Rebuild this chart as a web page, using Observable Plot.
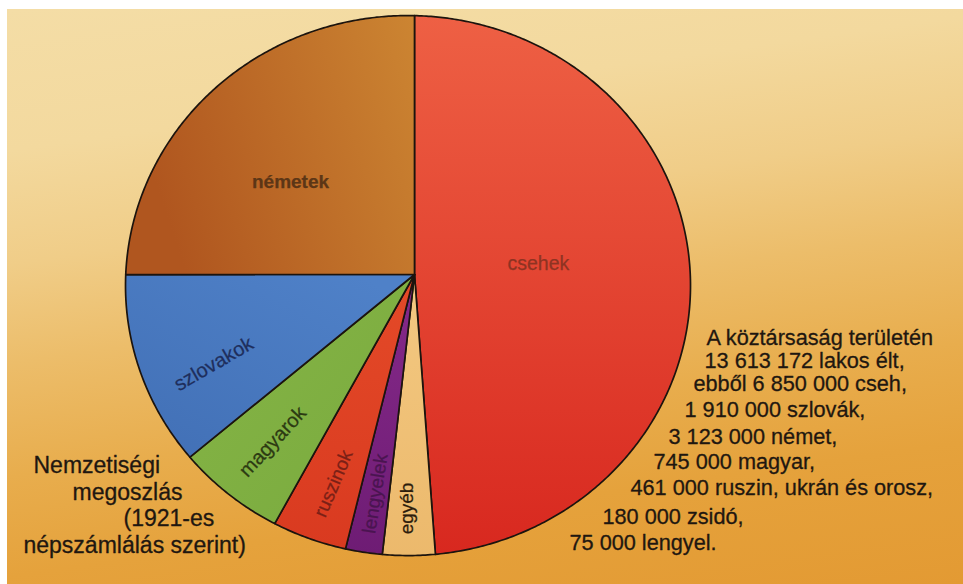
<!DOCTYPE html>
<html lang="hu">
<head>
<meta charset="utf-8">
<script src="https://cdn.jsdelivr.net/npm/d3@7"></script>
<script src="https://cdn.jsdelivr.net/npm/@observablehq/plot@0.6"></script>
<style>
  html, body { margin: 0; padding: 0; background: #fff; }
  #sheet { position: relative; width: 963px; height: 584px; overflow: hidden; background: #fff; }
  #paper {
    position: absolute; left: 7px; top: 9px; right: 0; bottom: 0;
    background: linear-gradient(172deg, #f4dda6 0%, #f3d99e 20%, #f0cd88 36%, #ecbd6a 50%, #e8ad4d 66%, #e5a23c 80%, #e39a33 100%);
  }
  #chart { position: absolute; left: 0; top: 0; }
  #chart svg { background: transparent; }
</style>
</head>
<body>
<div id="sheet"><div id="paper"></div><div id="chart"></div></div>
<script>
// Nationality groups, clockwise from the top of the pie
const groups = ["csehek", "egyéb", "lengyelek", "ruszinok", "magyarok", "szlovakok", "németek"];
// Share of the pie per group, in percent
const sharePct = [48.86, 2.88, 2.01, 4.08, 5.94, 11.22, 25.0];
// Slice fills: [light, dark] ends of each slice's shading
const sliceShades = [
  ["#ee6044", "#d8281f"],
  ["#f3c982", "#ecb96c"],
  ["#862a8a", "#6e1c74"],
  ["#e44a28", "#d93a20"],
  ["#86b546", "#79aa3e"],
  ["#4f81c8", "#416fb5"],
  ["#cc8532", "#b0561f"]
];

// Census text beside the pie
const summaryLines = [
  "A köztársaság területén",
  "13 613 172 lakos élt,",
  "ebből 6 850 000 cseh,",
  "1 910 000 szlovák,",
  "3 123 000 német,",
  "745 000 magyar,",
  "461 000 ruszin, ukrán és orosz,",
  "180 000 zsidó,",
  "75 000 lengyel."
];
const titleLines = ["Nemzetiségi", "megoszlás", "(1921-es", "népszámlálás szerint)"];

// ---- layout ----
const W = 963, H = 584;
const CX = 414, CY = 274;      // pixel position of the slice vertex
const RX = 282.5, RY = 270;    // pixel size of one radius unit
const rimOffset = [-0.023, -0.041]; // rim ellipse centre relative to the vertex
const labelPlace = {
  "csehek":    {a: 85,    r: 0.44,  rot: 0,   fill: "#8e3322", weight: 400, size: 19.5},
  "egyéb":     {a: 181.8, r: 0.867, rot: -90, fill: "#2c1c0c", weight: 400, size: 19},
  "lengyelek": {a: 189.7, r: 0.823, rot: -81, fill: "#4a1450", weight: 400, size: 19},
  "ruszinok":  {a: 200.3, r: 0.826, rot: -67, fill: "#7a2016", weight: 400, size: 19},
  "magyarok":  {a: 219,   r: 0.797, rot: -47, fill: "#2c3a12", weight: 400, size: 20},
  "szlovakok": {a: 245,   r: 0.784, rot: -30, fill: "#1e2e5c", weight: 400, size: 20},
  "németek":   {a: 308,   r: 0.557, rot: 0,   fill: "#5c3616", weight: 700, size: 19}
};
// gradient direction per slice: [x1, y1, x2, y2] in bounding-box units
const shadeDir = {
  "csehek": [0, 0, 0, 1], "németek": [1, 0, 0, 0.3], "szlovakok": [0.8, 0, 0, 1],
  "magyarok": [0, 0, 1, 1], "ruszinok": [0, 0, 0, 1], "lengyelek": [0, 0, 0, 1], "egyéb": [0, 0, 0, 1]
};
const summaryPlace = [[706, 338], [704, 361], [693, 384], [684, 410], [668, 437], [653, 462], [630, 488], [602, 517], [569, 543]];
const titlePlace = [[33, 465], [72, 492], [123, 518], [23, 545]];

const rad = d => d * Math.PI / 180;
// distance from the vertex to the rim along angle a (clockwise from top)
function rim(a) {
  const dx = Math.sin(rad(a)), dy = Math.cos(rad(a));
  const [ox, oy] = rimOffset;
  const b = dx * ox + dy * oy;
  return b + Math.sqrt(b * b - (ox * ox + oy * oy) + 1);
}

// slice outlines: vertex, then points along the rim
const total = d3.sum(sharePct);
const slicePts = [];
let acc = 0;
groups.forEach((g, i) => {
  const a0 = acc / total * 360;
  acc += sharePct[i];
  const a1 = acc / total * 360;
  slicePts.push({group: g, x: 0, y: 0});
  const n = Math.max(2, Math.ceil((a1 - a0) / 0.5));
  for (let k = 0; k <= n; ++k) {
    const a = a0 + (a1 - a0) * k / n;
    const t = rim(a);
    slicePts.push({group: g, x: t * Math.sin(rad(a)), y: t * Math.cos(rad(a))});
  }
});

const labels = groups.map(g => {
  const p = labelPlace[g];
  return {group: g, x: p.r * Math.sin(rad(p.a)), y: p.r * Math.cos(rad(p.a)), ...p};
});

const gradId = i => `slice-shade-${i}`;
function shadeDefs() {
  const defs = d3.create("svg:defs");
  groups.forEach((g, i) => {
    const [x1, y1, x2, y2] = shadeDir[g];
    const lg = defs.append("linearGradient").attr("id", gradId(i))
      .attr("x1", x1).attr("y1", y1).attr("x2", x2).attr("y2", y2);
    lg.append("stop").attr("offset", 0).attr("stop-color", sliceShades[i][0]);
    lg.append("stop").attr("offset", 1).attr("stop-color", sliceShades[i][1]);
  });
  return defs.node();
}

const font = "'Liberation Sans', Arial, Helvetica, sans-serif";
const ink = "#1f1710";

const textLine = (s, [px, py], size) => Plot.text([s], {
  text: d => d,
  frameAnchor: "top-left",
  dx: px, dy: py,
  textAnchor: "start",
  lineAnchor: "middle",
  fontSize: size,
  fill: ink,
  stroke: ink,
  strokeWidth: 0.3,
  fontFamily: font
});

const chart = Plot.plot({
  width: W,
  height: H,
  margin: 0,
  style: {background: "transparent", fontFamily: font, overflow: "visible"},
  x: {domain: [-CX / RX, (W - CX) / RX], axis: null},
  y: {domain: [-(H - CY) / RY, CY / RY], axis: null},
  color: {domain: groups, range: groups.map((g, i) => `url(#${gradId(i)})`)},
  marks: [
    shadeDefs,
    Plot.line(slicePts, {
      x: "x", y: "y", z: "group", fill: "group",
      stroke: "#1c140e", strokeWidth: 1.7, strokeLinejoin: "round",
      curve: "linear-closed"
    }),
    ...labels.map(l => Plot.text([l], {
      x: "x", y: "y", text: "group",
      rotate: l.rot, fill: l.fill, fontWeight: l.weight, fontSize: l.size,
      stroke: l.fill, strokeWidth: 0.25,
      fontFamily: font
    })),
    ...summaryLines.map((s, i) => textLine(s, summaryPlace[i], 21.7)),
    ...titleLines.map((s, i) => textLine(s, titlePlace[i], 23))
  ]
});

document.getElementById("chart").appendChild(chart);
</script>
</body>
</html>
